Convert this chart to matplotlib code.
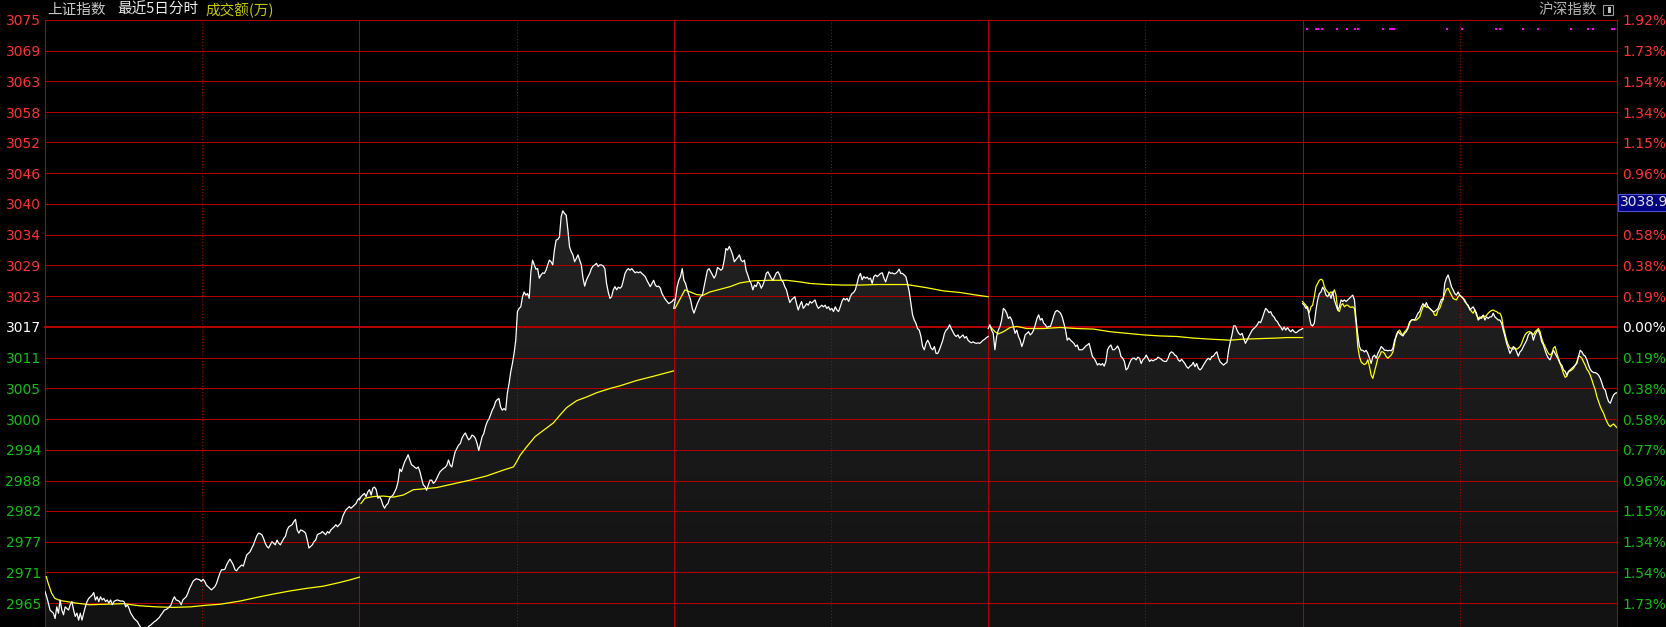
import numpy as np
import matplotlib
matplotlib.use('Agg')
import matplotlib.pyplot as plt
import matplotlib.transforms as mtransforms
from matplotlib.colors import LinearSegmentedColormap
from matplotlib.patches import Rectangle

# ---- 坐标轴刻度 ----
grid_prices = [3074.9, 3069.1, 3063.3, 3057.5, 3051.8, 3046.0, 3040.2, 3034.4, 3028.6, 3022.8,
               3017.0, 3011.2, 3005.4, 2999.6, 2993.8, 2988.0, 2982.3, 2976.5, 2970.7, 2964.9]
left_labels = ['3075', '3069', '3063', '3058', '3052', '3046', '3040', '3034', '3029', '3023',
               '3017', '3011', '3005', '3000', '2994', '2988', '2982', '2977', '2971', '2965']
right_labels = ['1.92%', '1.73%', '1.54%', '1.34%', '1.15%', '0.96%', '0.77%', '0.58%', '0.38%', '0.19%',
                '0.00%', '0.19%', '0.38%', '0.58%', '0.77%', '0.96%', '1.15%', '1.34%', '1.54%', '1.73%']
prev_close = 3017.0
max_price = 3038.9

# ---- 5日分时价格 ----
day1_price = [
    2967.1, 2966.1, 2964.9, 2963.6, 2963.3, 2963.0, 2962.0, 2964.2, 2963.0, 2965.5,
    2963.6, 2962.7, 2964.2, 2963.9, 2963.6, 2964.6, 2965.2, 2963.6, 2962.4, 2963.0,
    2961.7, 2963.0, 2961.7, 2963.0, 2964.2, 2965.2, 2965.8, 2966.1, 2966.4, 2966.9,
    2965.5, 2966.1, 2965.2, 2966.1, 2965.5, 2965.8, 2965.2, 2965.5, 2964.9, 2965.5,
    2964.6, 2965.2, 2965.4, 2965.5, 2965.4, 2965.3, 2965.3, 2965.2, 2964.2, 2964.6,
    2963.9, 2963.0, 2962.5, 2962.0, 2961.7, 2961.4, 2960.8, 2960.3, 2960.1, 2960.0,
    2960.1, 2960.3, 2960.6, 2960.8, 2961.1, 2961.4, 2961.6, 2961.9, 2962.2, 2962.7,
    2963.1, 2963.6, 2963.7, 2963.9, 2964.2, 2964.6, 2965.5, 2966.1, 2965.5, 2965.4,
    2965.2, 2964.6, 2965.5, 2965.8, 2966.1, 2966.8, 2967.7, 2968.3, 2969.0, 2969.3,
    2969.5, 2969.4, 2969.3, 2969.0, 2969.4, 2969.0, 2968.3, 2968.0, 2967.7, 2967.4,
    2967.7, 2968.0, 2968.6, 2969.6, 2970.5, 2971.2, 2971.2, 2971.3, 2972.1, 2972.7,
    2973.2, 2972.7, 2972.1, 2971.2, 2971.0, 2971.5, 2971.8, 2972.1, 2971.9, 2973.0,
    2974.0, 2974.3, 2974.6, 2975.3, 2975.9, 2976.8, 2977.6, 2978.1, 2978.0, 2977.8,
    2977.1, 2976.2, 2975.6, 2975.3, 2975.9, 2976.5, 2976.2, 2975.9, 2976.8, 2976.2,
    2975.9, 2976.5, 2977.1, 2977.5, 2978.7, 2979.3, 2979.5, 2979.7, 2980.3, 2980.7,
    2978.7, 2978.1, 2978.7, 2978.6, 2978.4, 2978.1, 2976.8, 2975.3, 2975.6, 2975.9,
    2976.5, 2976.8, 2977.8, 2978.0, 2978.1, 2978.4, 2978.1, 2977.8, 2978.4, 2978.1,
    2978.7, 2979.0, 2979.3, 2979.7, 2979.3, 2979.7, 2980.0, 2981.2, 2981.9, 2982.5,
    2982.8, 2983.1, 2982.8, 2983.1, 2983.4, 2983.7, 2984.4, 2984.7]

day2_price = [
    2984.4, 2985.0, 2985.3, 2985.6, 2985.0, 2985.9, 2986.3, 2985.3, 2986.6, 2986.8,
    2986.3, 2984.7, 2985.0, 2984.4, 2983.4, 2982.8, 2983.4, 2983.7, 2984.7, 2985.0,
    2985.3, 2985.9, 2986.6, 2987.8, 2990.2, 2989.7, 2990.7, 2991.6, 2992.2, 2992.9,
    2991.9, 2991.0, 2990.8, 2990.5, 2990.3,
    2990.6, 2989.7, 2988.4, 2987.2, 2986.9, 2986.2, 2987.2, 2988.1, 2988.1, 2987.5,
    2987.8, 2988.4, 2989.1, 2989.7, 2990.0, 2990.3, 2990.5, 2990.9, 2991.9, 2990.9,
    2990.6, 2992.2, 2993.5, 2994.1, 2994.7, 2995.0, 2996.0, 2996.6, 2997.0, 2996.3,
    2995.7, 2996.0, 2996.6, 2996.4, 2996.0, 2995.0, 2993.7, 2995.0, 2996.3, 2996.9,
    2998.2, 2999.1, 2999.6, 3000.4, 3001.3, 3001.9, 3002.9, 3003.3, 3003.5, 3001.9,
    3001.3, 3001.6, 3001.3, 3004.5, 3006.3, 3008.5, 3010.1, 3012.0, 3014.5, 3019.9,
    3020.5, 3020.8, 3022.7, 3023.6, 3023.0, 3023.3, 3022.4, 3027.4, 3029.6, 3028.7,
    3027.9, 3028.0, 3026.2, 3026.8, 3027.2, 3027.1, 3027.7, 3028.7, 3029.6, 3029.3,
    3028.7, 3031.5, 3033.4, 3033.5, 3034.0, 3037.8, 3038.9, 3038.4, 3038.1, 3035.3,
    3032.1, 3031.2, 3030.6, 3029.3, 3029.9, 3030.6, 3029.6, 3028.7, 3026.2, 3024.7,
    3025.8, 3026.5, 3027.1, 3028.0, 3028.5, 3028.7, 3029.0, 3028.4, 3028.7, 3028.7,
    3028.5, 3028.0, 3025.2, 3023.6, 3022.4, 3022.7, 3024.0, 3024.6, 3024.0, 3024.5,
    3024.3, 3024.6, 3025.8, 3027.1, 3027.7, 3028.0, 3027.7, 3028.0, 3027.6, 3027.2,
    3027.4, 3027.2, 3027.4, 3027.1, 3026.8, 3026.5, 3025.8, 3025.2, 3024.6, 3025.2,
    3025.8, 3024.9, 3024.6, 3024.7, 3024.3, 3023.3, 3022.7, 3022.2, 3021.8, 3021.4,
    3021.6, 3021.8, 3022.2]

day3_price = [
    3020.5, 3022.4, 3024.6, 3025.8, 3026.5, 3028.0, 3025.8, 3025.2, 3024.0, 3023.0,
    3022.1, 3020.5, 3019.6, 3020.5, 3021.4, 3022.1, 3022.7, 3023.0, 3024.6, 3026.2,
    3027.7, 3028.0, 3027.4, 3026.8, 3026.2, 3026.8, 3028.2, 3028.0, 3027.7, 3028.0,
    3029.6, 3031.8, 3031.5, 3032.2, 3031.5, 3030.6, 3029.3, 3029.7, 3030.1, 3030.6,
    3029.6, 3029.3, 3029.6, 3027.7, 3026.8, 3025.8, 3025.2, 3024.0, 3024.9, 3024.6,
    3025.5, 3025.2, 3024.3, 3024.9, 3025.8, 3027.1, 3027.4, 3026.8, 3026.2, 3025.8,
    3026.5, 3027.2, 3027.4, 3026.8, 3025.8, 3025.5, 3024.6, 3024.0, 3022.7, 3021.6,
    3022.1, 3022.4, 3022.7, 3021.4, 3020.2, 3021.1, 3021.8, 3020.5, 3020.9, 3021.4,
    3021.1,
    3021.8, 3021.5, 3021.8, 3022.1, 3021.1, 3020.5, 3020.8, 3021.1, 3020.8, 3021.1,
    3020.5, 3020.8, 3020.2, 3020.5, 3019.9, 3020.8, 3020.2, 3019.9, 3020.8, 3021.8,
    3022.4, 3022.1, 3022.4, 3021.8, 3022.7, 3023.3, 3023.5, 3024.0, 3025.2, 3026.5,
    3027.1, 3025.9, 3026.5, 3026.2, 3026.4, 3026.0, 3026.2, 3025.2, 3026.5, 3026.8,
    3026.5, 3026.8, 3027.1, 3027.2, 3026.2, 3025.5, 3026.5, 3027.4, 3027.1, 3027.2,
    3027.0, 3027.1, 3027.4, 3027.9, 3027.1, 3027.1, 3026.8, 3026.5, 3025.2, 3023.7,
    3021.5, 3019.3, 3018.3, 3017.7, 3016.7, 3016.4, 3015.2, 3013.3, 3012.7, 3013.9,
    3014.5, 3013.9, 3013.0, 3012.7, 3013.3, 3012.0, 3012.0, 3012.7, 3013.6, 3014.5,
    3015.8, 3016.4, 3016.7, 3017.4, 3016.7, 3016.1, 3015.5, 3015.2, 3015.5, 3014.9,
    3015.2, 3015.5, 3014.9, 3015.2, 3014.5, 3014.2, 3014.0, 3014.2, 3014.0, 3013.9,
    3014.0, 3013.9, 3014.2, 3014.5, 3014.7, 3015.0, 3015.2]

day4_price = [
    3016.7, 3017.4, 3016.4, 3015.8, 3012.7, 3015.2, 3016.4, 3017.1, 3018.3, 3020.5,
    3020.2, 3019.6, 3018.6, 3018.9, 3018.3, 3017.1, 3015.8, 3016.4, 3015.2, 3014.5,
    3013.3, 3014.2, 3015.5, 3015.8, 3016.1, 3015.5, 3015.8, 3016.4, 3017.4, 3018.6,
    3019.3, 3018.3, 3018.6, 3017.7, 3017.4, 3016.9, 3017.1, 3017.1, 3018.0, 3019.1,
    3019.9, 3020.1, 3019.9, 3019.6, 3018.9, 3017.7, 3016.4, 3014.5, 3014.9, 3014.5,
    3014.2, 3013.9, 3013.3, 3013.6, 3012.7, 3012.7, 3012.7, 3013.0, 3013.4, 3013.6,
    3013.9, 3012.7, 3011.4, 3011.1, 3010.5, 3009.8, 3010.1, 3009.8, 3010.1, 3009.6,
    3010.5, 3012.7, 3013.3, 3013.6, 3012.7, 3012.7, 3013.0, 3013.4, 3012.7, 3011.4,
    3011.1, 3010.5, 3008.9, 3009.2, 3010.1, 3010.8, 3011.1, 3011.1, 3010.8, 3011.3,
    3011.1, 3010.1, 3010.8, 3011.1, 3011.7, 3011.1, 3010.5, 3010.8, 3010.6, 3010.8,
    3010.9, 3011.3, 3011.1, 3010.9, 3010.6, 3010.5, 3010.5, 3011.1, 3012.0, 3012.3,
    3012.1, 3011.7, 3011.5, 3010.8, 3010.5, 3010.9, 3010.5, 3010.1, 3009.5, 3009.2,
    3009.6, 3009.8, 3010.3, 3009.5, 3010.1, 3009.2, 3008.9, 3009.2, 3009.8, 3010.3,
    3010.8, 3011.1,
    3010.8, 3011.4, 3011.5, 3012.0, 3012.3, 3011.1, 3010.4, 3010.1, 3009.8, 3010.1,
    3010.3, 3012.6, 3014.2, 3015.5, 3017.2, 3017.2, 3016.4, 3015.8, 3015.5, 3015.8,
    3014.8, 3013.9, 3014.5, 3015.2, 3015.8, 3016.4, 3016.7, 3017.0, 3017.4, 3018.0,
    3017.8, 3018.6, 3019.6, 3020.5, 3020.2, 3019.7, 3019.9, 3019.2, 3018.9, 3018.3,
    3018.0, 3017.4, 3017.0, 3016.4, 3017.0, 3016.4, 3016.9, 3016.4, 3016.1, 3016.5,
    3016.1, 3015.9, 3016.1, 3016.4, 3016.5, 3016.7]

day5_price = [
    3021.4, 3021.1, 3020.5, 3020.8, 3018.9, 3017.4, 3017.2, 3017.7, 3020.2, 3022.1,
    3023.3, 3023.6, 3024.5, 3024.0, 3023.0, 3022.7, 3023.3, 3022.4, 3023.6, 3022.1,
    3021.1, 3020.2, 3020.8, 3022.1, 3021.8, 3022.1, 3021.8, 3022.1, 3022.4, 3022.7,
    3023.0, 3022.1, 3018.3, 3015.5, 3013.3, 3012.6, 3012.6, 3012.3, 3012.6, 3012.0,
    3011.1, 3010.1, 3011.4, 3011.7, 3011.1, 3012.0, 3012.6, 3013.3, 3013.0, 3012.6,
    3012.6, 3012.5, 3012.6, 3012.5, 3013.0, 3014.5, 3015.2, 3016.1, 3015.8, 3015.5,
    3015.3, 3015.8, 3016.1, 3016.7, 3017.7, 3018.3, 3018.4, 3018.3, 3018.9, 3019.6,
    3019.9, 3020.8, 3021.4, 3020.9, 3021.6, 3020.8, 3020.5, 3020.2, 3019.9, 3019.9,
    3020.2, 3020.5, 3021.4, 3022.2, 3022.1, 3025.2, 3026.2, 3026.8, 3025.8, 3024.6,
    3024.0, 3023.3, 3023.0, 3023.6, 3023.0, 3022.7, 3022.4, 3021.8, 3021.4, 3021.1,
    3020.2, 3020.5, 3020.8, 3020.2, 3019.6, 3018.3, 3018.6, 3018.9, 3019.2, 3018.3,
    3018.9, 3018.6, 3018.9, 3018.9, 3019.6, 3018.9, 3018.6, 3018.3, 3018.3, 3017.7,
    3016.4, 3015.2, 3013.9, 3013.0, 3012.0, 3012.6, 3013.3, 3013.0, 3012.3, 3011.5,
    3012.3, 3012.6, 3013.3, 3013.9, 3014.5, 3015.5, 3015.9, 3015.8, 3014.5, 3015.5,
    3016.1, 3016.4, 3015.5, 3014.2, 3013.6, 3012.6, 3011.7, 3011.1, 3010.8, 3011.7,
    3012.6, 3012.0, 3011.4, 3010.8, 3010.1, 3009.8, 3008.9, 3008.6, 3007.9, 3008.6,
    3008.9, 3009.2, 3009.5, 3009.8, 3010.1, 3011.4, 3012.6, 3012.3, 3011.7, 3011.5,
    3010.8, 3009.8, 3009.0, 3008.6, 3008.4, 3008.4, 3008.2, 3007.9, 3007.3, 3006.4,
    3005.4, 3005.1, 3003.8, 3002.9, 3002.6, 3003.5, 3004.2, 3004.5, 3004.6]

# 第5日叠加指数 (黄线)
day5_overlay = [
    3021.8, 3021.4, 3021.1, 3020.3, 3019.7, 3020.8, 3021.1, 3022.7, 3024.6, 3025.2,
    3025.8, 3026.0, 3025.8, 3024.6, 3024.0, 3023.6, 3023.3, 3023.6, 3023.3, 3024.0,
    3023.0, 3020.2, 3019.9, 3021.1, 3021.4, 3020.8, 3021.1, 3021.1, 3020.8, 3020.7,
    3020.8, 3020.5, 3017.7, 3013.3, 3011.4, 3010.4, 3010.1, 3009.9, 3010.1, 3010.8,
    3009.5, 3007.9, 3007.3, 3008.6, 3009.8, 3011.1, 3011.5, 3012.3, 3012.3, 3012.0,
    3011.4, 3011.1, 3011.4, 3011.7, 3012.3, 3013.9, 3015.5, 3016.1, 3016.4, 3015.8,
    3015.5, 3016.1, 3016.4, 3017.0, 3018.0, 3018.2, 3018.4, 3018.3, 3018.3, 3018.6,
    3018.9, 3019.9, 3020.8, 3021.1, 3020.7, 3020.8, 3020.5, 3020.2, 3019.9, 3019.2,
    3019.2, 3020.2, 3020.5, 3021.4, 3022.4, 3023.3, 3024.1, 3024.3, 3023.6, 3023.0,
    3022.4, 3022.2, 3022.1, 3022.7, 3023.0, 3022.7, 3022.4, 3022.1, 3021.4, 3020.9,
    3020.5, 3019.9, 3019.6, 3020.2, 3019.2, 3018.6, 3018.9, 3018.6, 3019.2, 3018.9,
    3019.2, 3019.6, 3019.9, 3020.1, 3020.2, 3020.0, 3019.9, 3019.6, 3019.6, 3018.9,
    3017.0, 3015.8, 3014.5, 3013.6, 3013.0, 3013.0, 3012.8, 3013.0, 3012.8, 3013.0,
    3013.3, 3013.9, 3014.8, 3015.5, 3015.9, 3016.1, 3016.1, 3015.9, 3015.5, 3016.1,
    3016.4, 3016.7, 3016.1, 3014.8, 3013.9, 3013.3, 3012.6, 3012.0, 3011.7, 3012.0,
    3013.0, 3013.3, 3012.0, 3011.1, 3010.1, 3009.2, 3008.2, 3007.5, 3007.7, 3008.6,
    3008.7, 3008.9, 3009.2, 3009.8, 3010.4, 3011.5, 3011.4, 3011.1, 3010.4, 3009.8,
    3009.0, 3008.6, 3007.9, 3007.0, 3006.0, 3005.1, 3003.8, 3002.9, 3002.0, 3001.3,
    3000.7, 2999.8, 2999.1, 2998.5, 2998.2, 2998.5, 2998.7, 2998.3, 2998.0]

# ---- 均价线 (分钟, 价格) ----
day1_avg_t = [1, 2.5, 5, 7.5, 11.5, 16.5, 24, 34, 47, 60, 72.5, 85, 98, 111, 123, 134, 149, 162, 174, 187,
              200, 212.5, 225, 233, 240]
day1_avg = [2969.9, 2968.6, 2966.8, 2965.8, 2965.4, 2965.2, 2964.9, 2964.6, 2964.7, 2964.8, 2964.4, 2964.2,
            2964.1, 2964.2, 2964.5, 2964.7, 2965.3, 2966.0, 2966.6, 2967.2, 2967.7, 2968.1, 2968.8, 2969.3, 2969.8]
day2_avg_t = [1.2, 4.3, 10.6, 18.3, 25.9, 33.6, 41.2, 46.3, 59, 71.7, 84.5, 97.2, 109.9, 117.6, 120.1, 122.7,
              127.7, 134.1, 140.5, 148.1, 153.2, 158.3, 165.9, 173.6, 181.2, 191.4, 199, 211.7, 224.5, 239.7]
day2_avg = [2983.7, 2984.7, 2985.0, 2985.1, 2984.9, 2985.3, 2986.3, 2986.4, 2986.7, 2987.4, 2988.1, 2988.9,
            2990.0, 2990.6, 2991.6, 2992.8, 2994.4, 2996.3, 2997.5, 2998.9, 3000.4, 3001.8, 3003.1, 3003.8,
            3004.6, 3005.4, 3005.9, 3006.9, 3007.7, 3008.7]
day3_avg_t = [0.9, 8.5, 12.4, 17.5, 22.5, 27.6, 35.3, 42.9, 50.5, 60.7, 73.4, 86.2, 96.3, 104, 116.7, 129.5,
              142.2, 154.9, 167.6, 177.8, 185.4, 193.1, 205.8, 218.5, 231.3, 240]
day3_avg = [3020.5, 3024.0, 3023.6, 3023.1, 3023.0, 3023.6, 3024.1, 3024.6, 3025.3, 3025.7, 3025.8, 3025.8,
            3025.5, 3025.2, 3025.0, 3024.9, 3024.9, 3025.0, 3025.0, 3025.0, 3024.7, 3024.4, 3023.8, 3023.5,
            3023.0, 3022.7]
day4_avg_t = [1.4, 5.2, 7.8, 11.6, 16.7, 21.8, 29.4, 42.2, 54.9, 67.6, 80.3, 93.1, 105.8, 118.5, 131.3, 144,
              156.7, 169.4, 184.7, 194.8, 207.5, 220.2, 227.8, 240]
day4_avg = [3017.1, 3016.1, 3015.7, 3016.1, 3016.9, 3017.1, 3016.7, 3016.7, 3016.9, 3016.7, 3016.6, 3016.1,
            3015.8, 3015.5, 3015.3, 3015.2, 3014.9, 3014.7, 3014.5, 3014.7, 3014.8, 3014.9, 3015.0, 3015.0]

# 第5日顶部标记 (分钟)
mark_minutes = [3, 10, 12, 15, 26, 34, 40, 42, 61, 67, 68, 70, 110, 122, 148, 151, 168, 180, 205, 218, 222, 236, 238]

day_prices = [day1_price, day2_price, day3_price, day4_price, day5_price]
avg_lines = [(day1_avg_t, day1_avg), (day2_avg_t, day2_avg), (day3_avg_t, day3_avg), (day4_avg_t, day4_avg)]

W, H = 1666, 627
RED = '#b00000'
CJK = ['Noto Sans CJK SC', 'DejaVu Sans']
DAY = 240

fig = plt.figure(figsize=(W / 100, H / 100), dpi=100, facecolor='black')
ax = fig.add_axes([45 / W, 0, 1572 / W, 607 / H])
ax.set_facecolor('black')
ymin, ymax = 2960.4, 3074.9

# 背景渐变 + 线上方涂黑
grad = np.linspace(0, 1, 256).reshape(-1, 1)
cmap = LinearSegmentedColormap.from_list('fill', ['#121212', '#2a2a2a'])
ax.imshow(grad, extent=[0, 5 * DAY, ymin, ymax], origin='lower', aspect='auto', cmap=cmap, zorder=0)

for d, p in enumerate(day_prices):
    x = d * DAY + np.linspace(0, DAY, len(p))
    ax.fill_between(x, p, ymax, color='black', lw=0, zorder=1)
    ax.plot(x, p, color='white', lw=0.9, zorder=4)

for d, (t, v) in enumerate(avg_lines):
    ax.plot(d * DAY + np.array(t), v, color='#ffff00', lw=0.9, zorder=3)

x5 = 4 * DAY + np.linspace(0, DAY, len(day5_overlay))
ax.plot(x5, day5_overlay, color='#ffff00', lw=0.9, zorder=3)

# 网格
for v in grid_prices:
    ax.axhline(v, color=RED, lw=1.45 if v == prev_close else 0.75, zorder=2, clip_on=False)
for d in range(6):
    ax.axvline(d * DAY, color=RED, lw=0.75, zorder=2, clip_on=False)
for d in range(5):
    ax.axvline(d * DAY + DAY / 2, color=RED, lw=0.75, ls=(0, (1, 2)), zorder=2)

# 顶部标记
ax.scatter(4 * DAY + np.array(mark_minutes), np.full(len(mark_minutes), 3073.2),
           marker='s', s=3, color='#ff00ff', lw=0, zorder=5)

ax.set_xlim(0, 5 * DAY)
ax.set_ylim(ymin, ymax)
ax.set_xticks([])
for s in ax.spines.values():
    s.set_visible(False)


def lab_color(v):
    if abs(v - prev_close) < 0.05:
        return 'white'
    return '#ff3232' if v > prev_close else '#10c010'


ax.set_yticks(grid_prices)
ax.set_yticklabels(left_labels)
ax.tick_params(axis='y', length=0, pad=3, labelsize=10)
for lab, v in zip(ax.get_yticklabels(), grid_prices):
    lab.set_color(lab_color(v))

ax2 = ax.twinx()
ax2.set_ylim(ymin, ymax)
ax2.set_yticks(grid_prices)
ax2.set_yticklabels(right_labels)
ax2.tick_params(axis='y', length=0, pad=4, labelsize=10)
for lab, v in zip(ax2.get_yticklabels(), grid_prices):
    lab.set_color(lab_color(v))
for s in ax2.spines.values():
    s.set_visible(False)

# 最高价标签
trans = mtransforms.blended_transform_factory(fig.transFigure, ax.transData)
fig.text(1619.5 / W, max_price + 0.3, '3038.9', transform=trans, ha='left', va='bottom',
         fontsize=10, color='#e0e0e0', zorder=10,
         bbox=dict(boxstyle='square,pad=0.12', fc='#000080', ec='#5050d0', lw=0.8))

# 标题
ty = 1 - 10 / H
fig.text(47 / W, ty, '上证指数', color='#c8c8c8', fontsize=10.5, va='center', family=CJK)
fig.text(117 / W, ty, '最近5日分时', color='#ececec', fontsize=10.5, va='center', family=CJK)
fig.text(205 / W, ty, '成交额(万)', color='#c8c800', fontsize=10.5, va='center', family=CJK)
fig.text(1597 / W, ty, '沪深指数', color='#b4b4b4', fontsize=10.5, va='center', ha='right', family=CJK)
fig.patches.append(Rectangle((1603 / W, 1 - 15 / H), 10 / W, 10 / H, transform=fig.transFigure,
                             fc='none', ec='#9a9a9a', lw=0.8))
fig.patches.append(Rectangle((1608 / W, 1 - 13 / H), 3 / W, 6 / H, transform=fig.transFigure,
                             fc='#bdbdbd', ec='none'))

fig.savefig('out.png', dpi=100, facecolor='black')
